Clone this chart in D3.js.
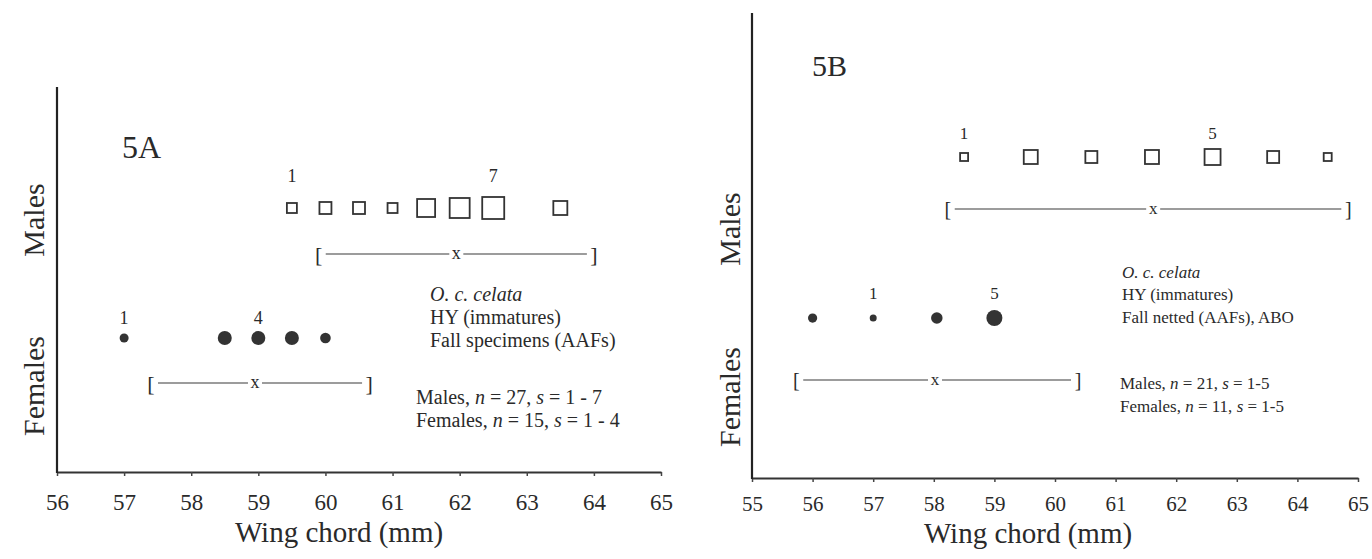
<!DOCTYPE html>
<html>
<head>
<meta charset="utf-8">
<script src="https://cdn.jsdelivr.net/npm/d3@7"></script>
<style>
  body { margin: 0; background: #fff; }
  text { font-family: "Liberation Serif", "DejaVu Serif", serif; fill: #2a2a2a; }
  .axisA .tick text { font-family: "Liberation Serif", serif !important; font-size: 23px !important; }
  .axisB .tick text { font-family: "Liberation Serif", serif !important; font-size: 21px !important; }
</style>
</head>
<body>
<script>
// tick labels
var ticksA = [56, 57, 58, 59, 60, 61, 62, 63, 64, 65];
var ticksB = [55, 56, 57, 58, 59, 60, 61, 62, 63, 64, 65];

// 5A - fall specimens
var maleWingA = [59.5, 60, 60.5, 61, 61.5, 62, 62.5, 63.5];
var maleCountA = [1, 2, 2, 1, 5, 6, 7, 3];
var femaleWingA = [57, 58.5, 59, 59.5, 60];
var femaleCountA = [1, 4, 4, 4, 2];
var maleRangeA = [59.9, 61.95, 64.0];     // [low, mean, high]
var femaleRangeA = [57.4, 58.95, 60.65];
var maleNoteA = [0, 6];    // which points get their count written above
var femaleNoteA = [0, 2];

// 5B - fall netted
var maleWingB = [58.5, 59.6, 60.6, 61.6, 62.6, 63.6, 64.5];
var maleCountB = [1, 4, 3, 4, 5, 3, 1];
var femaleWingB = [56, 57, 58.05, 59];
var femaleCountB = [2, 1, 3, 5];
var maleRangeB = [58.23, 61.62, 64.84];
var femaleRangeB = [55.73, 58.02, 60.38];
var maleNoteB = [0, 4];
var femaleNoteB = [1, 3];

var svg = d3.select("body").append("svg")
    .attr("width", 1372)
    .attr("height", 559);

function drawPanel(p) {
    var x = d3.scaleLinear().domain(p.domain).range([p.x0, p.x1]);
    var side = d3.scaleLinear().domain([1, d3.max(p.maleCount)]).range(p.sideRange);
    var rad = d3.scaleLinear().domain([1, d3.max(p.femaleCount)]).range(p.rRange);
    var g = svg.append("g");

    // x axis
    var ax = g.append("g")
        .attr("class", p.axisClass)
        .attr("transform", "translate(0," + p.axisY + ")")
        .call(d3.axisBottom(x).tickValues(p.ticks).tickSize(4).tickSizeOuter(0)
            .tickPadding(p.tickPad).tickFormat(d3.format("d")));
    ax.attr("font-family", null).attr("font-size", null);
    ax.select(".domain").attr("stroke", "#333").attr("stroke-width", 2);
    ax.selectAll(".tick line").attr("stroke", "#444").attr("stroke-width", 1.5);
    ax.selectAll(".tick text").attr("fill", "#2a2a2a");

    // y axis (plain line)
    g.append("line")
        .attr("x1", p.x0).attr("x2", p.x0)
        .attr("y1", p.yTop).attr("y2", p.axisY + 1)
        .attr("stroke", "#222").attr("stroke-width", 2.2);

    g.append("text")
        .attr("x", (p.x0 + p.x1) / 2 + p.xLabelShift).attr("y", p.xLabelY)
        .attr("text-anchor", "middle")
        .style("font-size", "29px")
        .text("Wing chord (mm)");

    [["Males", p.maleLabelY], ["Females", p.femaleLabelY]].forEach(function (d) {
        g.append("text")
            .attr("transform", "translate(" + p.yLabelX + "," + d[1] + ") rotate(-90)")
            .attr("text-anchor", "middle")
            .attr("dominant-baseline", "central")
            .style("font-size", "30px")
            .text(d[0]);
    });

    g.append("text")
        .attr("x", p.titleX).attr("y", p.titleY)
        .attr("dominant-baseline", "central")
        .style("font-size", p.titleFont + "px")
        .text(p.title);

    // males: open squares
    var males = p.maleWing.map(function (w, i) { return { w: w, c: p.maleCount[i], i: i }; });
    g.selectAll(".sq").data(males).enter().append("rect")
        .attr("class", "sq")
        .attr("x", function (d) { return x(d.w) - side(d.c) / 2; })
        .attr("y", function (d) { return p.maleY - side(d.c) / 2; })
        .attr("width", function (d) { return side(d.c); })
        .attr("height", function (d) { return side(d.c); })
        .attr("fill", "#fff")
        .attr("stroke", "#333")
        .attr("stroke-width", 1.8);

    g.selectAll(".mnote").data(males.filter(function (d) { return p.maleNote.indexOf(d.i) >= 0; }))
        .enter().append("text")
        .attr("class", "mnote")
        .attr("x", function (d) { return x(d.w); })
        .attr("y", p.maleNoteY)
        .attr("text-anchor", "middle")
        .attr("dominant-baseline", "central")
        .style("font-size", p.noteFont + "px")
        .text(function (d) { return d.c; });

    // females: filled dots
    var females = p.femaleWing.map(function (w, i) { return { w: w, c: p.femaleCount[i], i: i }; });
    g.selectAll(".dot").data(females).enter().append("circle")
        .attr("class", "dot")
        .attr("cx", function (d) { return x(d.w); })
        .attr("cy", p.femaleY)
        .attr("r", function (d) { return rad(d.c); })
        .attr("fill", "#333");

    g.selectAll(".fnote").data(females.filter(function (d) { return p.femaleNote.indexOf(d.i) >= 0; }))
        .enter().append("text")
        .attr("class", "fnote")
        .attr("x", function (d) { return x(d.w); })
        .attr("y", p.femaleNoteY)
        .attr("text-anchor", "middle")
        .attr("dominant-baseline", "central")
        .style("font-size", p.noteFont + "px")
        .text(function (d) { return d.c; });

    // range brackets  [ ---- x ---- ]
    [[p.maleRange, p.maleBracketY], [p.femaleRange, p.femaleBracketY]].forEach(function (b) {
        var r = b[0], y = b[1];
        var lo = x(r[0]), mid = x(r[1]), hi = x(r[2]);
        var bg = g.append("g");
        bg.append("text").attr("x", lo).attr("y", y).attr("text-anchor", "middle")
            .attr("dominant-baseline", "central").style("font-size", p.bracketFont + "px").text("[");
        bg.append("text").attr("x", hi).attr("y", y).attr("text-anchor", "middle")
            .attr("dominant-baseline", "central").style("font-size", p.bracketFont + "px").text("]");
        bg.append("text").attr("x", mid).attr("y", y - 1).attr("text-anchor", "middle")
            .attr("dominant-baseline", "central").style("font-size", p.noteFont + "px").text("x");
        [[lo + 7, mid - 7], [mid + 7, hi - 7]].forEach(function (s) {
            bg.append("line")
                .attr("x1", s[0]).attr("x2", s[1])
                .attr("y1", y).attr("y2", y)
                .attr("stroke", "#3a3a3a").attr("stroke-width", 1.1);
        });
    });

    // notes
    var info = g.append("text").style("font-size", p.infoFont + "px");
    p.info.forEach(function (line, k) {
        var t = info.append("tspan").attr("x", p.infoX).attr("y", p.infoY[k]);
        if (k === 0) t.style("font-style", "italic");
        t.text(line);
    });
    [["Males", p.maleN, p.maleS, p.statY[0]], ["Females", p.femaleN, p.femaleS, p.statY[1]]].forEach(function (s) {
        var t = g.append("text").attr("x", p.statX).attr("y", s[3]).style("font-size", p.infoFont + "px");
        t.append("tspan").text(s[0] + ",  ");
        t.append("tspan").style("font-style", "italic").text("n");
        t.append("tspan").text(" = " + s[1] + ",  ");
        t.append("tspan").style("font-style", "italic").text("s");
        t.append("tspan").text(" = " + s[2]);
    });
}

drawPanel({
    title: "5A", titleX: 122, titleY: 147, titleFont: 32, axisClass: "axisA",
    domain: [56, 65], ticks: ticksA, x0: 57, x1: 661, axisY: 472, yTop: 87,
    tickPad: 18, xLabelY: 542, xLabelShift: -20,
    yLabelX: 33, maleLabelY: 220, femaleLabelY: 386,
    maleWing: maleWingA, maleCount: maleCountA, maleNote: maleNoteA, sideRange: [10, 22],
    femaleWing: femaleWingA, femaleCount: femaleCountA, femaleNote: femaleNoteA, rRange: [4.5, 7],
    maleY: 208, maleNoteY: 176, maleBracketY: 254,
    femaleY: 338, femaleNoteY: 318, femaleBracketY: 383,
    maleRange: maleRangeA, femaleRange: femaleRangeA,
    noteFont: 18, bracketFont: 22, infoFont: 20,
    info: ["O. c. celata", "HY (immatures)", "Fall specimens (AAFs)"],
    infoX: 430, infoY: [301, 324, 347],
    statX: 416, statY: [404, 427],
    maleN: 27, maleS: "1 - 7", femaleN: 15, femaleS: "1 - 4"
});

drawPanel({
    title: "5B", titleX: 812, titleY: 65, titleFont: 30, axisClass: "axisB",
    domain: [55, 65], ticks: ticksB, x0: 752, x1: 1358, axisY: 478, yTop: 13,
    tickPad: 14, xLabelY: 543, xLabelShift: -27,
    yLabelX: 729, maleLabelY: 229, femaleLabelY: 397,
    maleWing: maleWingB, maleCount: maleCountB, maleNote: maleNoteB, sideRange: [8, 16],
    femaleWing: femaleWingB, femaleCount: femaleCountB, femaleNote: femaleNoteB, rRange: [3.5, 8],
    maleY: 157, maleNoteY: 133, maleBracketY: 209,
    femaleY: 318, femaleNoteY: 293, femaleBracketY: 380,
    maleRange: maleRangeB, femaleRange: femaleRangeB,
    noteFont: 17, bracketFont: 20, infoFont: 17,
    info: ["O. c. celata", "HY (immatures)", "Fall netted (AAFs), ABO"],
    infoX: 1122, infoY: [278, 300, 323],
    statX: 1120, statY: [389, 412],
    maleN: 21, maleS: "1-5", femaleN: 11, femaleS: "1-5"
});
</script>
</body>
</html>
